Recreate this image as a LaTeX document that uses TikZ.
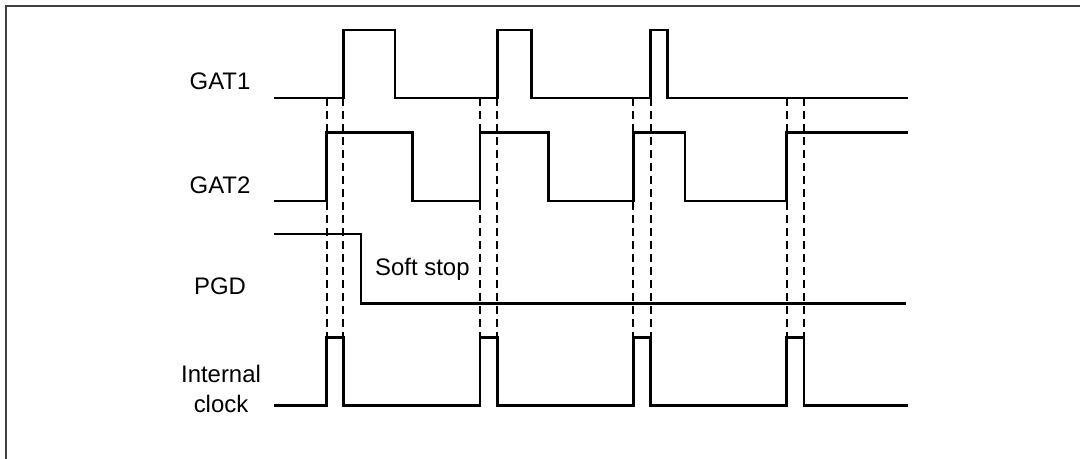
\documentclass[tikz,border=0pt]{standalone}
\usepackage{fontspec}
\setmainfont{Liberation Sans}
\begin{document}
\begin{tikzpicture}[x=1bp,y=-1bp,
  sig/.style={line width=2.8bp, line join=miter, line cap=rect},
  guide/.style={line width=1.8bp, dash pattern=on 8bp off 5bp},
  lbl/.style={font=\fontsize{24}{30}\selectfont, inner sep=0pt}]
\useasboundingbox (0,0) rectangle (1080,459);
\draw[line width=1.8bp, black!75] (1080,6) -- (6,6) -- (6,459);
% guide lines
\foreach \x in {326.7,343.3,480,497.3,633.3,650.7,786.7,804}
  \draw[guide] (\x,98) -- (\x,337);
% GAT1
\draw[sig] (275,98) -- (343.3,98) -- (343.3,30) -- (395,30) -- (395,98)
  -- (497.3,98) -- (497.3,30) -- (531.7,30) -- (531.7,98)
  -- (650.7,98) -- (650.7,30) -- (667.7,30) -- (667.7,98) -- (907,98);
% GAT2
\draw[sig] (275,201) -- (326.7,201) -- (326.7,132.7) -- (412.3,132.7) -- (412.3,201)
  -- (480,201) -- (480,132.7) -- (548.3,132.7) -- (548.3,201)
  -- (633.3,201) -- (633.3,132.7) -- (685,132.7) -- (685,201)
  -- (786.7,201) -- (786.7,132.7) -- (907,132.7);
% PGD
\draw[sig] (275,234) -- (361,234) -- (361,303.3) -- (905,303.3);
% Internal clock
\draw[sig] (275,405.7) -- (326.7,405.7) -- (326.7,337.3) -- (343.3,337.3) -- (343.3,405.7)
  -- (480,405.7) -- (480,337.3) -- (497.3,337.3) -- (497.3,405.7)
  -- (633.3,405.7) -- (633.3,337.3) -- (650.7,337.3) -- (650.7,405.7)
  -- (786.7,405.7) -- (786.7,337.3) -- (804,337.3) -- (804,405.7) -- (907,405.7);
% labels
\node[lbl] (gat1) at (220,81) {GAT1};
\node[lbl] (gat2) at (220,185) {GAT2};
\node[lbl] (pgd) at (220,286) {PGD};
\node[lbl, align=center] (clk) at (221,389) {Internal\\clock};
\node[lbl, anchor=base west] (ss) at (375,276) {Soft stop};
\end{tikzpicture}
\end{document}
